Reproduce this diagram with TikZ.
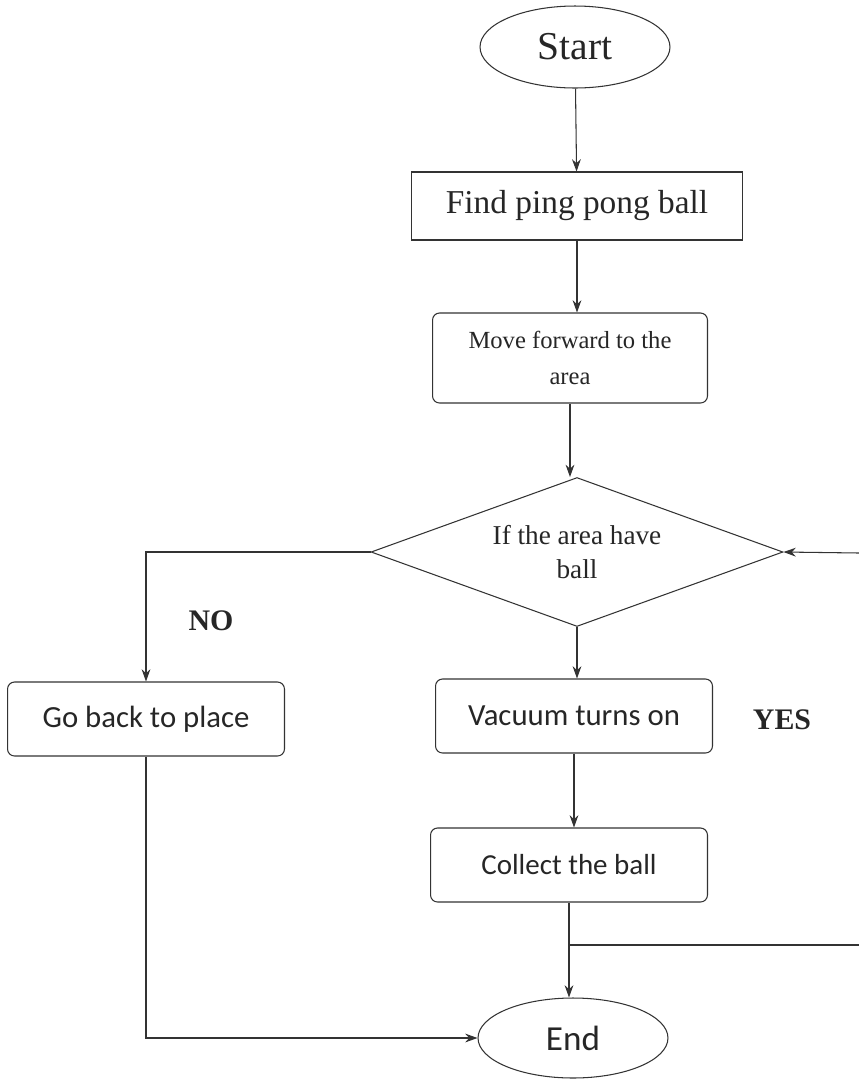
\documentclass[tikz,border=0pt]{standalone}
\usepackage{fontspec}
\setmainfont{LiberationSerif}[Extension=.ttf, UprightFont=*-Regular, BoldFont=*-Bold, ItalicFont=*-Italic, BoldItalicFont=*-BoldItalic]
\newfontfamily\calibri{Carlito}
\usetikzlibrary{shapes.geometric,arrows.meta}

\begin{document}
\begin{tikzpicture}[x=0.02cm, y=-0.02cm, line width=0.6pt, draw=black!80, text=black!85,
  >={Stealth[length=7pt,width=5pt]},
  term node/.style={ellipse,draw,minimum width=3.8cm,minimum height=1.64cm,inner sep=0pt},
  step box/.style={rectangle,draw,inner sep=0pt},
  round box/.style={rectangle,draw,rounded corners=4pt,inner sep=0pt,minimum height=1.48cm},
  test node/.style={diamond,draw,aspect=2.77,minimum width=8.24cm,minimum height=2.98cm,inner sep=0pt},
  answer/.style={font=\fontsize{17}{20}\selectfont\bfseries}]
\useasboundingbox (0,0) rectangle (859,1080);
\begin{scope}
\node[term node,font=\fontsize{22.5}{27}\selectfont] (start) at (575,47) {Start};
\node[step box,minimum width=6.62cm,minimum height=1.36cm,font=\fontsize{19}{22}\selectfont] (find) at (577,206) {Find ping pong ball};
\node[round box,minimum width=5.5cm,minimum height=1.8cm,align=center,font=\fontsize{14}{21}\selectfont] (move) at (570,358) {Move forward to the\\area};
\node[test node,align=center,font=\fontsize{15.5}{19}\selectfont] (test) at (577,552) {If the area have\\ball};
\node[round box,minimum width=5.54cm,font=\calibri\fontsize{17.5}{20}\selectfont] (back) at (146,719) {Go back to place};
\node[round box,minimum width=5.54cm,font=\calibri\fontsize{17.5}{20}\selectfont] (vac) at (574,716) {Vacuum turns on};
\node[round box,minimum width=5.54cm,font=\calibri\fontsize{16.5}{20}\selectfont] (coll) at (569,865) {Collect the ball};
\node[term node,minimum height=1.6cm,font=\calibri\fontsize{20}{24}\selectfont] (end) at (573,1038) {End};
\node[answer] (no) at (211,621) {NO};
\node[answer] (yes) at (782,720) {YES};
%\node[] () at (,) {};
\end{scope}
\coordinate (r1) at (859,553);
\coordinate (r2) at (859,945);
\coordinate (j) at (coll.south |- r2);
\begin{scope}
\draw[->] (start) -- (find);
\draw[->] (find) -- (find.south |- move.north);
\draw[->] (move.south) -- (move.south |- test.north);
\draw[->] (test.west) -| (back.north);
\draw[->] (test.south) -- (test.south |- vac.north);
\draw[->] (vac.south) -- (vac.south |- coll.north);
\draw[->] (coll.south) -- (coll.south |- end.north);
\draw[->] (back.south) |- (end.west);
\draw[->] (r1) -- (test.east);
\draw (j) -- (r2);
\end{scope}
\end{tikzpicture}
\end{document}
